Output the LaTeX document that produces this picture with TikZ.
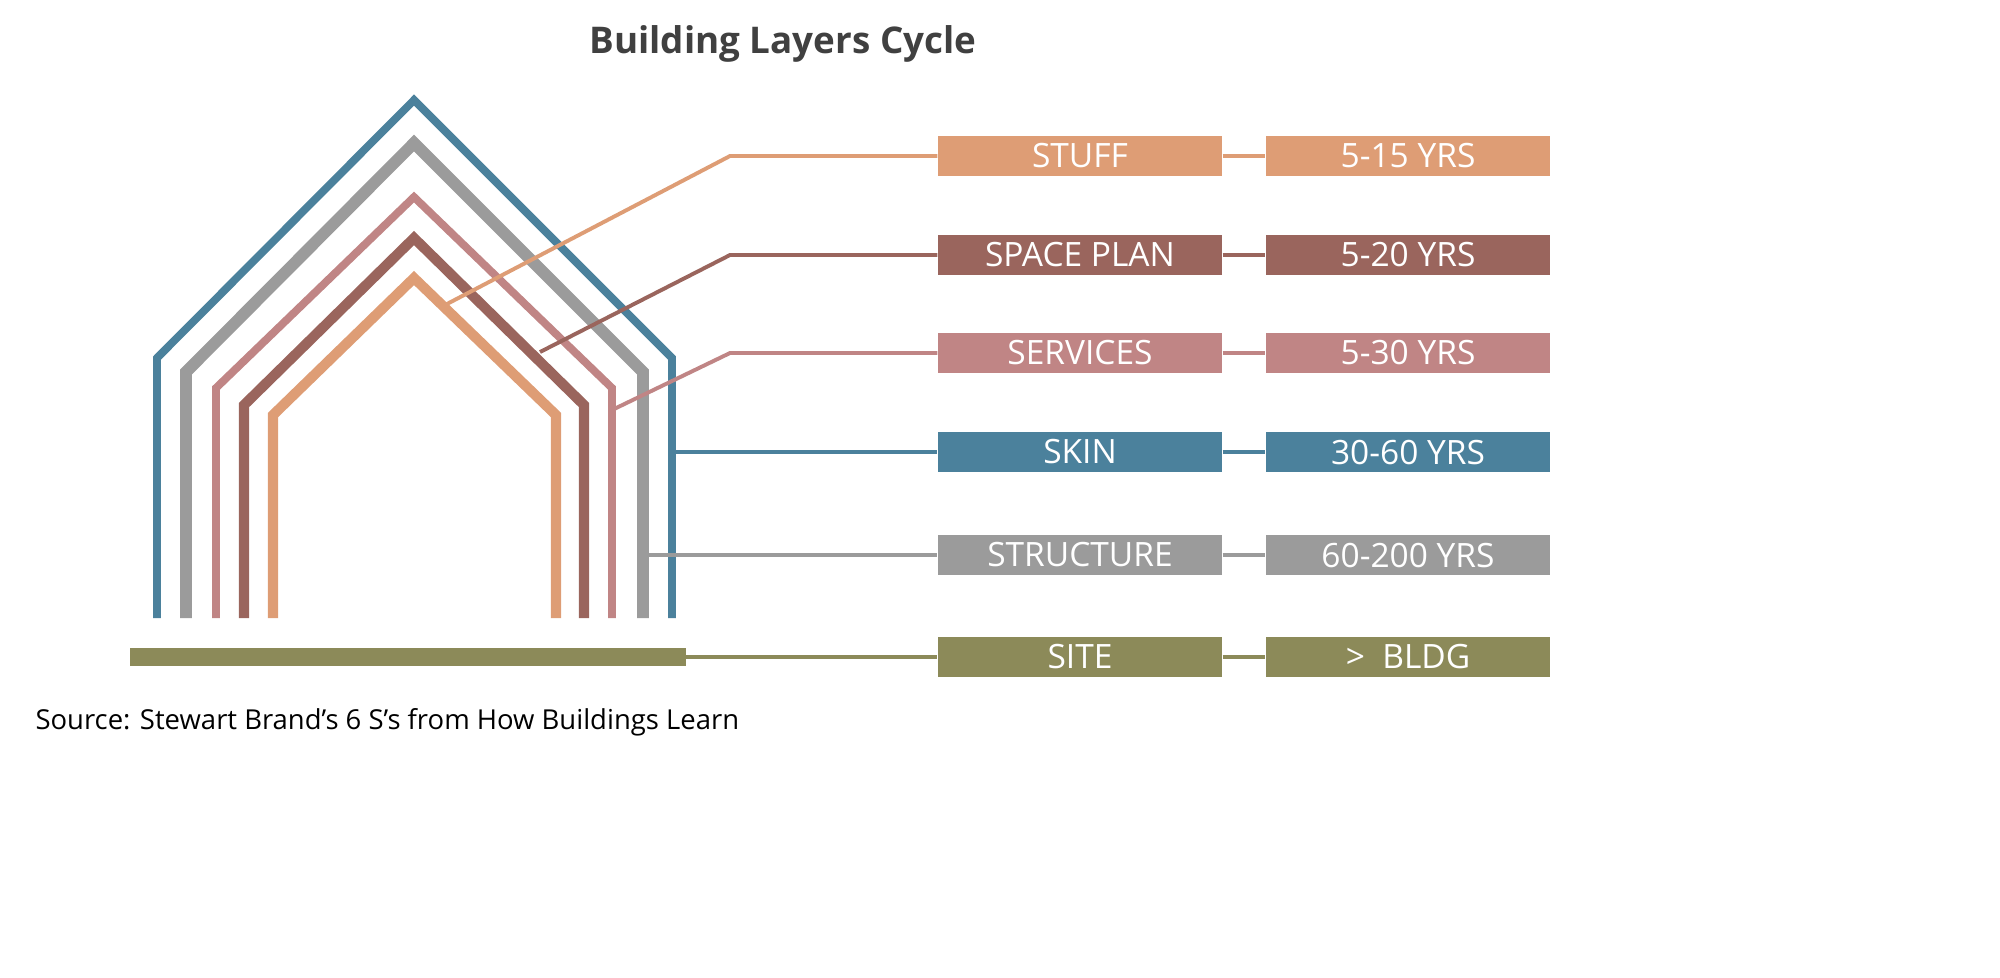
\documentclass[tikz,border=0pt]{standalone}
\usepackage{fontspec}
\setmainfont{Open Sans}
\usetikzlibrary{calc}
\definecolor{cStuff}{HTML}{DE9D75}
\definecolor{cSpace}{HTML}{9A655D}
\definecolor{cServ}{HTML}{C08585}
\definecolor{cSkin}{HTML}{4B819C}
\definecolor{cStruct}{HTML}{9B9B9B}
\definecolor{cSite}{HTML}{8C8A59}
\tikzset{
  lbox/.style={fill=#1, minimum width=3.64cm, minimum height=0.51cm, inner sep=0pt, text=white, font=\fontsize{12.2}{13}\selectfont},
  link/.style={draw=#1, line width=0.05cm},
}
\begin{document}
\begin{tikzpicture}[x=0.0128cm,y=-0.0128cm]
\path[use as bounding box] (0,0) rectangle (2000,977);
\node[font=\bfseries\fontsize{13.4}{15}\selectfont, text=black!75] (title) at (783,44) {Building Layers Cycle};
% houses
\draw[cSkin, line width=0.10cm] (157,618) -- (157,358) -- (414,100) -- (672,358) -- (672,618);
\draw[cStruct, line width=0.15cm] (186,618) -- (186,372) -- (414,143) -- (643,372) -- (643,618);
\draw[cServ, line width=0.10cm] (216,618) -- (216,388) -- (414,197) -- (612,388) -- (612,618);
\draw[cSpace, line width=0.13cm] (244,618) -- (244,405) -- (414,238) -- (584,405) -- (584,618);
\draw[cStuff, line width=0.13cm] (273,618) -- (273,415) -- (414,278) -- (556,415) -- (556,618);
\fill[cSite] (130,648) rectangle (686,666);
% boxes
\foreach \name/\col/\y/\txt/\yrs in {stuff/cStuff/156/STUFF/5-15 YRS, space/cSpace/255/SPACE PLAN/5-20 YRS, serv/cServ/353/SERVICES/5-30 YRS, skin/cSkin/452/SKIN/30-60 YRS, struct/cStruct/555/STRUCTURE/60-200 YRS, site/cSite/657/SITE/> \ BLDG}{
  \node[lbox=\col] (\name) at (1080,\y) {\txt};
  \node[lbox=\col] (\name yrs) at (1408,\y) {\yrs};
  \draw[link=\col] (\name) -- (\name yrs);
}
% connectors
\coordinate (stuffA) at (445,305);
\coordinate (spaceA) at (540,352);
\coordinate (servA) at (612,410);
\coordinate (skinA) at (672,455);
\coordinate (structA) at (643,555);
\coordinate (siteA) at (686,657);
\draw[link=cStuff] (stuffA) -- (730,156) -- (stuff.west);
\draw[link=cSpace] (spaceA) -- (730,255) -- (space.west);
\draw[link=cServ] (servA) -- (730,353) -- (serv.west);
\draw[link=cSkin] (skinA |- skin) -- (skin.west);
\draw[link=cStruct] (structA |- struct) -- (struct.west);
\draw[link=cSite] (siteA) -- (site.west);
\node[anchor=west, font=\fontsize{10}{11}\selectfont, inner sep=0pt] (src) at (35,722) {Source: Stewart Brand’s 6 S’s from How Buildings Learn};
\end{tikzpicture}
\end{document}
